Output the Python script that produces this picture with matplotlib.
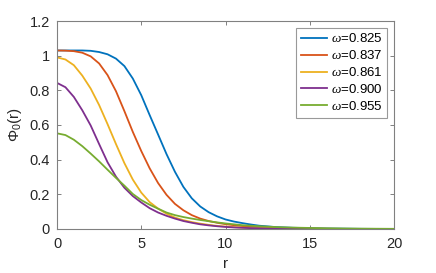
import matplotlib
matplotlib.use("Agg")
import matplotlib.pyplot as plt

plt.rcParams['font.family'] = ['Liberation Sans', 'DejaVu Sans']
plt.rcParams['mathtext.fontset'] = 'custom'
plt.rcParams['mathtext.it'] = 'Liberation Serif:italic'
plt.rcParams['mathtext.rm'] = 'Liberation Sans'

r = [0, 0.5, 1, 1.5, 2, 2.5, 3, 3.5, 4, 4.5, 5, 5.5, 6, 6.5, 7, 7.5, 8, 8.5,
     9, 9.5, 10, 10.5, 11, 11.5, 12, 13, 14, 16, 18, 20]

phi_0825 = [1.030, 1.030, 1.030, 1.030, 1.028, 1.021, 1.008, 0.983, 0.940, 0.868,
            0.772, 0.657, 0.545, 0.432, 0.330, 0.243, 0.177, 0.130, 0.097, 0.073,
            0.055, 0.043, 0.034, 0.026, 0.019, 0.011, 0.007, 0.003, 0.001, 0.000]
phi_0837 = [1.030, 1.029, 1.026, 1.017, 0.996, 0.955, 0.888, 0.795, 0.680, 0.560,
            0.450, 0.350, 0.265, 0.197, 0.145, 0.108, 0.080, 0.060, 0.046, 0.036,
            0.028, 0.022, 0.017, 0.013, 0.010, 0.006, 0.003, 0.001, 0.000, 0.000]
phi_0861 = [0.990, 0.978, 0.945, 0.885, 0.810, 0.715, 0.605, 0.490, 0.380, 0.285,
            0.210, 0.155, 0.118, 0.088, 0.066, 0.051, 0.040, 0.031, 0.024, 0.018,
            0.014, 0.011, 0.008, 0.006, 0.005, 0.003, 0.002, 0.001, 0.000, 0.000]
phi_0900 = [0.843, 0.818, 0.762, 0.685, 0.597, 0.490, 0.385, 0.302, 0.238, 0.190,
            0.153, 0.120, 0.095, 0.076, 0.060, 0.046, 0.036, 0.027, 0.021, 0.016,
            0.012, 0.009, 0.007, 0.005, 0.004, 0.002, 0.001, 0.000, 0.000, 0.000]
phi_0955 = [0.552, 0.542, 0.515, 0.478, 0.435, 0.390, 0.342, 0.295, 0.250, 0.202,
            0.167, 0.140, 0.117, 0.095, 0.080, 0.069, 0.060, 0.052, 0.045, 0.038,
            0.032, 0.027, 0.022, 0.019, 0.016, 0.011, 0.008, 0.004, 0.002, 0.001]

labels = [r'$\omega$=0.825', r'$\omega$=0.837', r'$\omega$=0.861',
          r'$\omega$=0.900', r'$\omega$=0.955']
series = [phi_0825, phi_0837, phi_0861, phi_0900, phi_0955]
colors = ['#0072BD', '#D95319', '#EDB120', '#7E2F8E', '#77AC30']

xticks = [0, 5, 10, 15, 20]
yticks = [0, 0.2, 0.4, 0.6, 0.8, 1.0, 1.2]
yticklabels = ['0', '0.2', '0.4', '0.6', '0.8', '1', '1.2']

fig = plt.figure(figsize=(4.36, 2.73), dpi=100)
ax = fig.add_axes([57/436, 44/273, 337/436, 208/273])

for y, lab, c in zip(series, labels, colors):
    ax.plot(r, y, color=c, lw=1.3, label=lab)

ax.set_xlim(0, 20)
ax.set_ylim(0, 1.2)
ax.set_xticks(xticks)
ax.set_yticks(yticks)
ax.set_yticklabels(yticklabels)
ax.tick_params(direction='in', top=True, right=True, length=3, width=0.7,
               color='#808080', labelsize=10.5, labelcolor='#262626')
ax.tick_params(axis='x', pad=6)
ax.tick_params(axis='y', pad=5)
for s in ax.spines.values():
    s.set_color('#808080')
    s.set_linewidth(0.8)

ax.set_xlabel('r', fontsize=11, color='#262626', labelpad=4)
ax.set_ylabel(r'$\Phi_0$(r)', fontsize=11, color='#262626', labelpad=4)

leg = ax.legend(loc='upper right', fontsize=9.5, frameon=True, fancybox=False,
                edgecolor='#808080', handlelength=2.0, handletextpad=0.3,
                labelspacing=0.3, borderpad=0.35, borderaxespad=0.5)
leg.get_frame().set_linewidth(0.8)

fig.savefig('out.png', dpi=100)
